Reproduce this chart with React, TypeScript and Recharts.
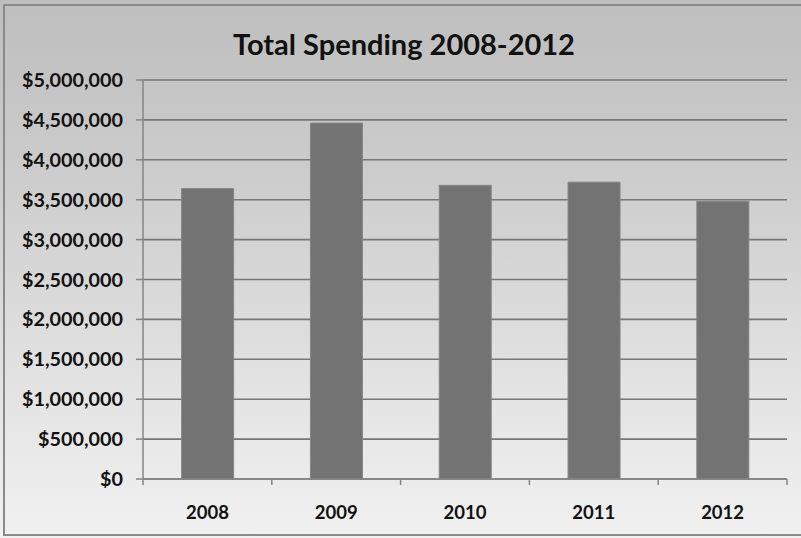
import React from "react";
import { BarChart, Bar, XAxis, YAxis, CartesianGrid } from "recharts";

const years = ["2008", "2009", "2010", "2011", "2012"];
const spending = [3640000, 4460000, 3680000, 3720000, 3480000];
const yTicks = [0, 500000, 1000000, 1500000, 2000000, 2500000, 3000000, 3500000, 4000000, 4500000, 5000000];

const W = 801;
const H = 538;
const FONT = "Lato, 'Open Sans', sans-serif";
const TICK_SIZE = 6;
const TICK_MARGIN = 21;

const data = years.map((year, i) => ({ year, spending: spending[i] }));

const money = (v: number) => "$" + v.toLocaleString("en-US");

// category label in the middle, tick marks on the band edges
function YearTick(props: any) {
  const { x, y, payload, index } = props;
  const half = payload.offset || 0;
  const axisY = y - TICK_SIZE - TICK_MARGIN;
  const last = index === years.length - 1;
  return (
    <g>
      <line x1={x - half} x2={x - half} y1={axisY} y2={axisY + TICK_SIZE} stroke="#858585" strokeWidth={1.5} />
      {last && (
        <line x1={x + half} x2={x + half} y1={axisY} y2={axisY + TICK_SIZE} stroke="#858585" strokeWidth={1.5} />
      )}
      <text x={x} y={y} dy="0.71em" textAnchor="middle" fontFamily={FONT} fontWeight={700} fontSize={18.5} fill="#111">
        {payload.value}
      </text>
    </g>
  );
}

export default function App() {
  return (
    <div
      style={{
        position: "absolute",
        left: 0,
        top: 0,
        width: W,
        height: H,
        overflow: "hidden",
        background: "linear-gradient(to bottom, #bebebe 0%, #cbcbcb 30%, #e2e2e2 70%, #f1f1f1 100%)",
      }}
    >
      <div
        style={{
          position: "absolute",
          left: 3,
          top: 4,
          width: W + 10,
          height: H - 6,
          border: "2px solid #8a8a8a",
          boxSizing: "border-box",
        }}
      />
      <svg width={W} height={H} style={{ position: "absolute", left: 0, top: 0 }}>
        <text x={404} y={55} textAnchor="middle" fontFamily={FONT} fontWeight={700} fontSize={29} fill="#111">
          Total Spending 2008-2012
        </text>
      </svg>
      <div style={{ position: "absolute", left: 0, top: 0 }}>
        <BarChart
          width={W}
          height={H}
          data={data}
          margin={{ top: 80, right: 14, bottom: 0, left: 0 }}
          barCategoryGap="30%"
        >
          <CartesianGrid vertical={false} stroke="#777" strokeWidth={1.6} />
          <XAxis
            dataKey="year"
            height={59}
            tickLine={false}
            tickSize={TICK_SIZE}
            tickMargin={TICK_MARGIN}
            axisLine={{ stroke: "#858585", strokeWidth: 1.5 }}
            tick={<YearTick />}
            interval={0}
          />
          <YAxis
            width={143}
            domain={[0, 5000000]}
            ticks={yTicks}
            tickFormatter={money}
            tickSize={7}
            tickMargin={13}
            tickLine={{ stroke: "#858585", strokeWidth: 1.5 }}
            axisLine={{ stroke: "#858585", strokeWidth: 1.5 }}
            tick={{ fontFamily: FONT, fontWeight: 700, fontSize: 19.8, fill: "#111" }}
          />
          <Bar dataKey="spending" fill="#737373" stroke="#858585" strokeWidth={1} isAnimationActive={false} />
        </BarChart>
      </div>
    </div>
  );
}
